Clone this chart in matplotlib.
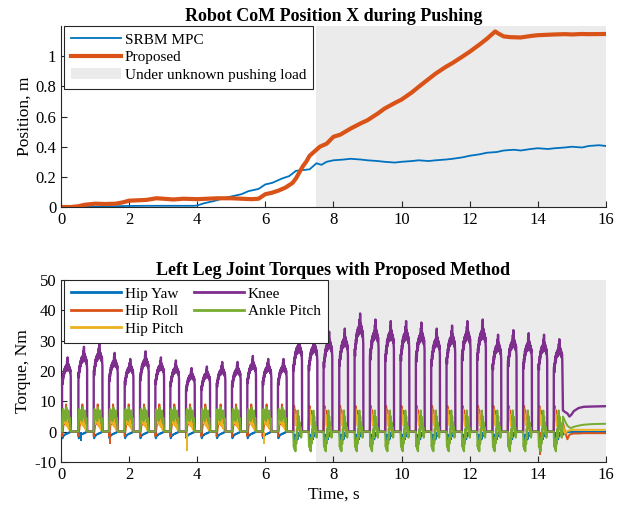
import matplotlib
matplotlib.use("Agg")
import matplotlib.pyplot as plt
import numpy as np

plt.rcParams.update({"font.family": "Liberation Serif",
                     "font.size": 12,
                     "axes.linewidth": 0.8,
                     "axes.unicode_minus": False,
                     "xtick.direction": "in",
                     "ytick.direction": "in"})

# ---- top panel: CoM x position ----
t_srbm = [0, 0.5, 1.0, 1.5, 2.0, 2.5, 3.0, 3.5, 3.9, 4.0, 4.2, 4.5, 4.8, 5.0, 5.3, 5.5,
          5.8, 6.0, 6.2, 6.5, 6.7, 6.9, 7.1, 7.3, 7.5, 7.65, 7.8, 8.0, 8.3, 8.5, 8.8, 9.0,
          9.3, 9.5, 9.8, 10.0, 10.3, 10.5, 10.8, 11.0, 11.3, 11.5, 11.8, 12.0, 12.3, 12.5,
          12.8, 13.0, 13.3, 13.5, 13.8, 14.0, 14.3, 14.5, 14.8, 15.0, 15.3, 15.5, 15.8, 16.0]
srbm = [0, 0.0, 0.002, 0.005, 0.007, 0.008, 0.008, 0.008, 0.008, 0.01, 0.025, 0.04, 0.06,
        0.07, 0.085, 0.105, 0.12, 0.15, 0.16, 0.19, 0.205, 0.24, 0.245, 0.25, 0.29, 0.28,
        0.30, 0.31, 0.315, 0.32, 0.315, 0.31, 0.305, 0.30, 0.295, 0.30, 0.305, 0.31, 0.305,
        0.31, 0.315, 0.32, 0.33, 0.34, 0.35, 0.36, 0.365, 0.375, 0.38, 0.375, 0.385, 0.39,
        0.385, 0.39, 0.395, 0.40, 0.395, 0.405, 0.41, 0.405]

t_prop = [0, 0.3, 0.5, 0.7, 1.0, 1.3, 1.6, 1.8, 2.0, 2.3, 2.5, 2.8, 3.0, 3.3, 3.6, 4.0, 4.3,
          4.6, 5.0, 5.3, 5.6, 5.8, 6.0, 6.2, 6.4, 6.6, 6.8, 6.9, 7.0, 7.1, 7.2, 7.3, 7.45, 7.6,
          7.8, 8.0, 8.2, 8.5, 8.8, 9.0, 9.3, 9.5, 9.8, 10.0, 10.3, 10.5, 10.8, 11.0, 11.3,
          11.5, 11.8, 12.0, 12.3, 12.5, 12.75, 12.85, 13.0, 13.2, 13.5, 13.8, 14.0, 14.3,
          14.5, 14.8, 15.0, 15.3, 15.5, 16.0]
prop = [0.0, 0.0, 0.005, 0.015, 0.022, 0.02, 0.022, 0.03, 0.042, 0.045, 0.047, 0.058, 0.055,
        0.05, 0.055, 0.052, 0.055, 0.058, 0.058, 0.055, 0.052, 0.055, 0.085, 0.095, 0.11,
        0.13, 0.16, 0.19, 0.23, 0.27, 0.30, 0.34, 0.37, 0.40, 0.42, 0.466, 0.48, 0.52, 0.555,
        0.576, 0.62, 0.653, 0.69, 0.713, 0.76, 0.797, 0.85, 0.885, 0.93, 0.956, 1.0, 1.03,
        1.08, 1.115, 1.165, 1.15, 1.132, 1.127, 1.125, 1.135, 1.14, 1.143, 1.145, 1.147,
        1.145, 1.148, 1.147, 1.148]

# ---- bottom panel: one pulse per stance phase ----
onsets = [0.03, 0.51, 0.96, 1.41, 1.87, 2.32, 2.77, 3.21, 3.67, 4.12, 4.57, 5.02, 5.47,
          5.92, 6.37, 6.82, 7.27, 7.71, 8.17, 8.62, 9.07, 9.52, 9.97, 10.42, 10.87, 11.32,
          11.77, 12.22, 12.67, 13.12, 13.57, 14.02, 14.47]
knee_peak = [24.5, 28, 29, 26, 24, 26.5, 24.5, 23.5, 21, 21.5, 23, 23, 25, 24, 24, 31.5,
             31.5, 33, 34, 39, 37, 36.5, 36.5, 36, 34, 35, 36.5, 37, 32, 33.5, 32.5, 32, 30.5]
stance = 0.26
n_early = 15

knee_phase = [0, 0.005, 0.03, 0.06, 0.09, 0.12, 0.15, 0.18, 0.21, 0.24, 0.27, 0.30, 0.33,
              0.36, 0.39, 0.42, 0.45, 0.48, 0.51, 0.54, 0.57, 0.60, 0.63, 0.66, 0.69, 0.72,
              0.75, 0.78, 0.81, 0.84, 0.87, 0.90, 0.93, 0.96, 0.985, 1.0]
knee_rel = [0, 0.66, 0.7, 0.64, 0.74, 0.7, 0.78, 0.74, 0.82, 0.77, 0.84, 0.8, 0.86, 0.81,
            0.88, 0.83, 0.87, 0.82, 0.9, 0.86, 0.95, 0.88, 1.0, 0.87, 0.92, 0.84, 0.9, 0.83,
            0.88, 0.82, 0.86, 0.8, 0.84, 0.78, 0.74, 0]

phase = [0, 0.01, 0.05, 0.1, 0.15, 0.2, 0.25, 0.3, 0.35, 0.4, 0.45, 0.5, 0.55, 0.6, 0.65,
         0.7, 0.75, 0.8, 0.85, 0.9, 0.95, 0.98, 0.99, 1.0]
yaw_e = [0, -1.5, -2.2, -1.8, -1.5, -1.2, -1.0, -1.2, -0.9, -0.8, -0.7, -0.8, -0.6, -0.5,
         -0.6, -0.4, -0.3, -0.4, -0.2, -0.2, -0.1, 0, 0, 0]
roll_e = [0, -1.5, -0.5, 1.0, 2.0, 3.0, 2.5, 4.0, 5.0, 6.5, 9.0, 7.0, 6.0, 5.0, 4.5, 3.5,
          4.0, 3.0, 2.5, 2.0, 1.5, 1.0, 0.5, 0]
pitch_e = [0, 0.5, 2.0, 3.5, 2.5, 4.0, 5.0, 3.0, 4.5, 5.5, 3.0, 2.0, 4.0, 3.0, 1.5, 2.5,
           1.0, 1.5, 0.5, 1.0, 0.5, 0.2, 0, 0]
ankle_e = [0, 3.0, 6.0, 7.5, 5.0, 6.5, 4.0, 7.0, 5.5, 3.5, 6.0, 8.0, 5.0, 6.5, 4.5, 6.0,
           7.0, 5.0, 3.0, 4.5, 2.0, 1.0, 0.3, 0]

yaw_l = [0, -0.5, -1.0, -1.5, -2.5, -1.5, -1.0, -2.0, -3.0, -1.5, -1.0, -2.5, -1.0, -0.5,
         -1.5, -0.5, -0.3, -0.8, -0.2, -0.1, 0, 0, 0, 0]
roll_l = [0, 3.0, 6.0, 8.5, 7.5, 6.0, 7.0, 5.0, 4.0, 5.0, 3.0, 4.0, 2.5, 3.0, 2.0, 1.5,
          2.0, 1.0, 1.5, 0.5, 0.5, 0.2, 0, 0]
pitch_l = [0, 2.0, 5.0, 7.5, 6.0, 4.0, 5.5, 3.0, 2.0, 3.5, 1.5, 2.5, 1.0, 2.0, 0.5, 1.0,
           0.5, 0, 0.5, 0, 0, 0, 0, 0]
ankle_l = [0, -2.0, -5.0, -3.0, -6.0, -4.0, -6.5, -2.0, -4.0, 1.0, -2.0, 3.0, 7.0, 2.0,
           5.0, 1.0, 3.0, -1.0, 1.5, -2.0, -0.5, 0, 0, 0]

# settling after the last step
tail_t = [14.74, 14.8, 14.87, 14.93, 14.98, 15.06, 15.2, 15.35, 15.6, 16.0]
knee_tail = [7.0, 6.5, 6.0, 5.0, 5.5, 6.8, 7.8, 8.2, 8.3, 8.4]
yaw_tail = [-1.0, -0.3, -0.2, -0.1, -0.1, -0.1, -0.1, -0.1, -0.1, -0.1]
roll_tail = [3.0, 0.0, -2.5, -1.0, -0.8, -0.6, -0.6, -0.5, -0.5, -0.5]
pitch_tail = [2.0, -0.5, 0.2, 0.4, 0.5, 0.6, 0.6, 0.6, 0.6, 0.6]
ankle_tail = [5.0, 3.5, 2.0, 1.4, 1.2, 1.6, 2.0, 2.3, 2.5, 2.6]

yaw_spk_t, yaw_spk_v = [0.58, 13.2, 14.5], [-3.0, -3.5, -3.5]
roll_spk_t, roll_spk_v = [1.45, 14.08], [-4.2, -7.8]
pitch_spk_t, pitch_spk_v = [3.70, 5.95, 13.16], [-6.5, -4.0, -5.0]


def build(tmpl_e, tmpl_l, tail, knee=False):
    ts, vs = [0.0], [0.0]
    for k, t0 in enumerate(onsets):
        if knee:
            vals = np.array(knee_rel) * knee_peak[k]
            tt = t0 + np.array(knee_phase) * stance
        else:
            vals = np.array(tmpl_e if k < n_early else tmpl_l, dtype=float)
            tt = t0 + np.array(phase) * stance
        if k == len(onsets) - 1:
            tt, vals = tt[:-2], vals[:-2]
        ts.extend(tt)
        vs.extend(vals)
    ts.extend(tail_t)
    vs.extend(tail)
    return np.array(ts), np.array(vs)


blue, orange, yellow, purple, green = "#0072BD", "#D95319", "#EDB120", "#7E2F8E", "#77AC30"
shade = "#ebebeb"

fig = plt.figure(figsize=(6.27, 5.08), dpi=100)
ax1 = fig.add_axes([0.0973, 0.5925, 0.869, 0.356])
ax2 = fig.add_axes([0.0973, 0.0906, 0.869, 0.358])

for ax in (ax1, ax2):
    for s in ("top", "right"):
        ax.spines[s].set_visible(False)
    for s in ("left", "bottom"):
        ax.spines[s].set_color("#262626")
    ax.tick_params(colors="#262626", labelcolor="black", length=4, width=0.8, labelsize=12)
    ax.set_xlim(0, 16)
    ax.set_xticks(np.arange(0, 17, 2))

legend_kw = dict(loc="upper left", bbox_to_anchor=(0.005, 1.0), fancybox=False,
                 framealpha=1, edgecolor="#262626", fontsize=11, handlelength=3.3,
                 handletextpad=0.25, labelspacing=0.25, borderpad=0.45, borderaxespad=0)

# top
span = ax1.axvspan(7.5, 16, color=shade, lw=0, zorder=0, label="Under unknown pushing load")
l1, = ax1.plot(t_srbm, srbm, color=blue, lw=1.3, label="SRBM MPC")
l2, = ax1.plot(t_prop, prop, color=orange, lw=3.0, label="Proposed")
ax1.set_ylim(0, 1.2)
ax1.set_yticks([0, 0.2, 0.4, 0.6, 0.8, 1.0])
ax1.set_yticklabels(["0", "0.2", "0.4", "0.6", "0.8", "1"])
ax1.set_ylabel("Position, m", fontsize=12.5, labelpad=2)
ax1.set_title("Robot CoM Position X during Pushing", fontsize=13, fontweight="bold", pad=4)
leg1 = ax1.legend(handles=[l1, l2, span], **legend_kw)
leg1.get_frame().set_linewidth(0.8)

# bottom
ax2.axvspan(7.5, 16, color=shade, lw=0, zorder=0)
series = [("Hip Yaw", yaw_e, yaw_l, yaw_tail, blue, False),
          ("Hip Roll", roll_e, roll_l, roll_tail, orange, False),
          ("Hip Pitch", pitch_e, pitch_l, pitch_tail, yellow, False),
          ("Knee", None, None, knee_tail, purple, True),
          ("Ankle Pitch", ankle_e, ankle_l, ankle_tail, green, False)]
spikes = {"Hip Yaw": (yaw_spk_t, yaw_spk_v), "Hip Roll": (roll_spk_t, roll_spk_v),
          "Hip Pitch": (pitch_spk_t, pitch_spk_v)}
handles = []
for i, (name, te, tl, tail, c, kn) in enumerate(series):
    ts, vs = build(te, tl, tail, knee=kn)
    h, = ax2.plot(ts, vs, color=c, lw=1.7 if kn else 1.4, label=name, zorder=2 + i)
    handles.append(h)
    if name in spikes:
        ax2.vlines(spikes[name][0], 0, spikes[name][1], color=c, lw=1.4, zorder=2 + i)

ax2.set_ylim(-10, 50)
ax2.set_yticks(np.arange(-10, 51, 10))
ax2.set_ylabel("Torque, Nm", fontsize=12.5, labelpad=2)
ax2.set_xlabel("Time, s", fontsize=12.5, labelpad=3)
ax2.set_title("Left Leg Joint Torques with Proposed Method", fontsize=13, fontweight="bold", pad=4)
leg2 = ax2.legend(handles=handles, ncol=2, columnspacing=0.7, **legend_kw)
leg2.get_frame().set_linewidth(0.8)
for lh in leg2.get_lines():
    lh.set_linewidth(2.0)

fig.savefig("out.png", dpi=100)
